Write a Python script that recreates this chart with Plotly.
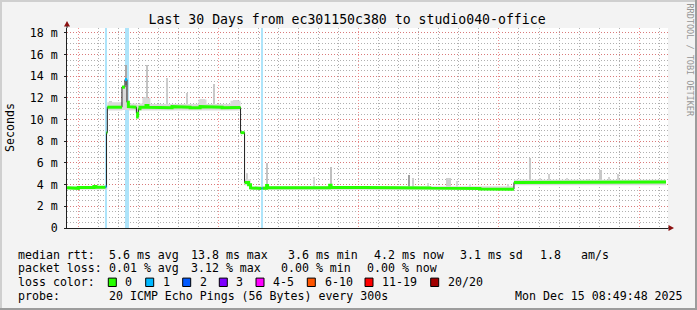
import plotly.graph_objects as go

# ---------------- data (x in days, 0 = first week boundary) ----------------
TITLE = "Last 30 Days from ec301150c380 to studio040-office"
WEEK_STARTS = [0, 7, 14, 21, 28]
WEEK_LABELS = ["Week 47", "Week 48", "Week 49", "Week 50"]
Y_TICKS = [0, 2, 4, 6, 8, 10, 12, 14, 16, 18]
Y_TICK_TEXT = ["0", "2 m", "4 m", "6 m", "8 m", "10 m", "12 m", "14 m", "16 m", "18 m"]

# median rtt (ms), step starts, and loss count per step
MED_DAY = [-0.564, -0.50, 0.0, 0.78, 0.88, 1.36, 1.41, 1.45, 1.68, 2.08, 2.18, 2.33,
           2.43, 2.50, 2.58, 2.90, 2.96, 3.00, 3.08, 3.38, 3.48, 4.08, 4.68, 5.08,
           5.58, 6.08, 6.58, 7.18, 7.58, 7.88, 8.10, 8.30, 8.50, 8.60, 8.82, 9.15,
           9.20, 9.40, 9.45, 11.07, 12.55, 12.62, 14.06, 16.06, 17.55, 19.55, 20.05,
           21.05, 21.45, 21.75, 24.05, 26.04, 28.04, 29.29]
MED_MS = [3.72, 3.66, 3.74, 3.82, 3.75, 3.80, 8.80, 11.15, 11.20, 11.15, 13.00, 13.70,
          11.60, 11.20, 11.15, 10.60, 10.25, 11.00, 11.15, 11.30, 11.15, 11.10, 11.20, 11.15,
          11.10, 11.20, 11.15, 11.10, 11.15, 11.12, 8.80, 4.20, 4.00, 3.70, 3.65, 3.68,
          3.68, 3.92, 3.72, 3.72, 3.95, 3.75, 3.72, 3.70, 3.68, 3.65, 3.60,
          3.60, 3.58, 4.20, 4.20, 4.22, 4.20, 4.25]
MED_LOSS = [0, 0, 0, 0, 0, 1, 0, 0, 0, 0, 0, 1,
            0, 0, 0, 0, 0, 0, 0, 0, 0, 0, 0, 0,
            0, 0, 0, 0, 0, 0, 0, 0, 0, 0, 0, 1,
            0, 0, 0, 0, 0, 0, 0, 0, 0, 0, 0,
            0, 0, 0, 0, 0, 0, 0]
DATA_END = 29.34

# smoke envelope (ms)
SMOKE_DAY = [-0.564, 1.45, 2.20, 2.50, 2.90, 3.05, 3.20, 3.60, 6.00, 6.40, 7.60, 8.10,
             8.30, 8.60, 21.75]
SMOKE_LO = [3.56, 10.85, 10.90, 10.85, 10.10, 10.85, 10.85, 10.85, 10.85, 10.85, 10.85, 8.70,
            3.95, 3.52, 3.95]
SMOKE_HI = [3.86, 11.60, 13.20, 11.50, 11.40, 11.50, 12.00, 11.45, 11.85, 11.45, 11.75, 8.90,
            4.50, 3.86, 4.45]

# smoke spikes (ms)
SPIKE_DAY = [1.62, 2.41, 3.35, 3.45, 4.45, 5.45, 6.20, 6.77, 7.85,
             8.42, 9.43, 11.77, 12.60, 16.53, 16.70, 17.46, 18.50, 18.91, 19.55,
             21.45, 22.57, 23.05, 23.50, 24.38, 25.45, 26.08, 26.50, 26.94, 28.04, 29.04]
SPIKE_TOP = [11.75, 15.00, 12.10, 15.00, 13.80, 12.50, 11.90, 13.30, 11.80,
             5.05, 6.00, 4.70, 5.66, 4.90, 4.60, 4.20, 4.60, 4.30, 4.10,
             4.10, 6.50, 4.60, 4.95, 4.60, 4.50, 5.35, 4.70, 5.00, 4.40, 4.40]
SPIKE_BASE = [11.0, 11.0, 11.0, 11.0, 11.0, 11.0, 11.0, 11.0, 11.0,
              4.0, 3.6, 3.6, 3.6, 3.6, 3.6, 3.6, 3.6, 3.6, 3.6,
              3.6, 4.0, 4.0, 4.0, 4.0, 4.0, 4.0, 4.0, 4.0, 4.0, 4.0]
SPIKE_SHADE = ["#d0d0d0", "#a8a8a8", "#d0d0d0", "#c4c4c4", "#cccccc", "#cccccc", "#d8d8d8",
               "#c8c8c8", "#d8d8d8",
               "#d0d0d0", "#c4c4c4", "#d8d8d8", "#c0c0c0", "#a0a0a0", "#d0d0d0", "#d8d8d8",
               "#d0d0d0", "#d8d8d8", "#dcdcdc",
               "#d8d8d8", "#c8c8c8", "#d8d8d8", "#d0d0d0", "#d8d8d8", "#d8d8d8", "#c8c8c8",
               "#d4d4d4", "#d0d0d0", "#d8d8d8", "#d8d8d8"]
SPIKE_W = [0.15, 0.06, 0.20, 0.05, 0.05, 0.05, 0.25, 0.05, 0.25,
           0.08, 0.05, 0.05, 0.06, 0.05, 0.05, 0.05, 0.25, 0.05, 0.05,
           0.05, 0.05, 0.05, 0.06, 0.05, 0.05, 0.08, 0.05, 0.06, 0.05, 0.05]

# periods with packet loss (background)
LOSS_BG_DAY = [1.38, 2.43, 9.17]
LOSS_BG_W = [0.13, 0.16, 0.05]

# legend texts
RTT_STATS = ["median rtt:", "5.6 ms avg", "13.8 ms max", "3.6 ms min", "4.2 ms now",
             "3.1 ms sd", "1.8", "am/s"]
LOSS_STATS = ["packet loss:", "0.01 % avg", "3.12 % max", "0.00 % min", "0.00 % now"]
LOSS_LABEL = "loss color:"
LOSS_BUCKETS = ["0", "1", "2", "3", "4-5", "6-10", "11-19", "20/20"]
LOSS_COLORS = ["#26ff00", "#00b8ff", "#0059ff", "#7e00ff", "#ff00ff", "#ff5500",
               "#ff0000", "#a10000"]
PROBE_TEXT = ["probe:", "20 ICMP Echo Pings (56 Bytes) every 300s", "Mon Dec 15 08:49:48 2025"]
Y_TITLE = "Seconds"
WATERMARK = "RRDTOOL / TOBI OETIKER"

# ---------------- layout geometry ----------------
W, H = 697, 310
L, T, PW, PH = 67, 28, 601, 200
X_RANGE = [-0.564, 29.44]
Y_TOP = 18.46
FONT = "DejaVu Sans Mono"


def px(xp):
    return (xp - L) / PW


def py(yp):
    return (T + PH - yp) / PH


fig = go.Figure()

# loss background bands
fig.add_trace(go.Bar(x=LOSS_BG_DAY, y=[Y_TOP] * len(LOSS_BG_DAY), base=0, width=LOSS_BG_W,
                     marker=dict(color="#aee4fa", line=dict(width=0)), hoverinfo="skip"))

# smoke envelope
sx = SMOKE_DAY + [DATA_END]
fig.add_trace(go.Scatter(x=sx, y=SMOKE_LO + [SMOKE_LO[-1]], mode="lines",
                         line=dict(width=0, shape="hv"), hoverinfo="skip"))
fig.add_trace(go.Scatter(x=sx, y=SMOKE_HI + [SMOKE_HI[-1]], mode="lines", fill="tonexty",
                         fillcolor="#dadada", line=dict(width=0, shape="hv"), hoverinfo="skip"))

# smoke spikes
fig.add_trace(go.Bar(x=SPIKE_DAY, base=SPIKE_BASE,
                     y=[t - b for t, b in zip(SPIKE_TOP, SPIKE_BASE)], width=SPIKE_W,
                     marker=dict(color=SPIKE_SHADE, line=dict(width=0)), hoverinfo="skip"))

# black median
fig.add_trace(go.Scatter(x=MED_DAY + [DATA_END], y=MED_MS + [MED_MS[-1]], mode="lines",
                         line=dict(color="#202020", width=1, shape="hv"), hoverinfo="skip"))

# loss-coloured median segments
ends = MED_DAY[1:] + [DATA_END]
for loss_level, col in [(0, LOSS_COLORS[0]), (1, LOSS_COLORS[1])]:
    gx, gy = [], []
    for i, (t0, t1, v, lo) in enumerate(zip(MED_DAY, ends, MED_MS, MED_LOSS)):
        if lo != loss_level:
            continue
        gx += [t0, t1]
        gy += [v, v]
        nxt_ok = (i + 1 < len(MED_MS) and MED_LOSS[i + 1] == loss_level
                  and abs(MED_MS[i + 1] - v) < 0.5)
        if not nxt_ok:
            gx.append(None)
            gy.append(None)
    fig.add_trace(go.Scatter(x=gx, y=gy, mode="lines", connectgaps=False,
                             line=dict(color=col, width=3), hoverinfo="skip"))

days = [d for d in range(0, 30) if d not in WEEK_STARTS]
grid_red = "rgba(235,100,100,0.7)"
grid_gray = "rgba(150,150,150,0.75)"
dash = "1px,2px"

fig.update_layout(
    width=W, height=H, autosize=False,
    margin=dict(l=L, r=W - L - PW, t=T, b=H - T - PH, pad=0),
    paper_bgcolor="#f3f3f3", plot_bgcolor="#ffffff",
    showlegend=False, barmode="overlay", bargap=0,
    font=dict(family=FONT, size=11.6, color="#000000"),
    title=dict(text=TITLE, x=0.498, xanchor="center", y=1 - 19.5 / H, yanchor="middle",
               yref="container", font=dict(family=FONT, size=13.2, color="#000000")),
    xaxis=dict(range=X_RANGE, showticklabels=False, tickmode="array", tickvals=WEEK_STARTS,
               ticks="", showgrid=True, gridcolor=grid_red, griddash=dash, gridwidth=1,
               zeroline=False, showline=True, linecolor="#202020", linewidth=1,
               minor=dict(tickmode="array", tickvals=days, showgrid=True,
                          gridcolor=grid_gray, griddash=dash, gridwidth=1, ticks="")),
    xaxis2=dict(range=X_RANGE, overlaying="x", matches="x", side="bottom", anchor="y",
                tickmode="array", tickvals=[s + 3.5 for s in WEEK_STARTS[:4]],
                ticktext=WEEK_LABELS, showgrid=False, zeroline=False, showline=False,
                ticks="", ticklabelstandoff=2,
                tickfont=dict(family=FONT, size=11.6, color="#000000")),
    yaxis=dict(range=[0, Y_TOP], tickmode="array", tickvals=Y_TICKS, ticktext=Y_TICK_TEXT,
               showgrid=True, gridcolor=grid_red, griddash=dash, gridwidth=1,
               zeroline=False, showline=True, linecolor="#202020", linewidth=1,
               ticks="outside", ticklen=2, tickcolor="#202020", ticklabelstandoff=4,
               tickfont=dict(family=FONT, size=11.6, color="#000000"),
               minor=dict(dtick=0.5, showgrid=True, gridcolor=grid_gray, griddash=dash,
                          gridwidth=1, ticks="")),
)

shapes = []
# frame shading
shapes.append(dict(type="rect", xref="paper", yref="paper", x0=px(0), x1=px(W), y0=py(0),
                   y1=py(2), fillcolor="#cfcfcf", line=dict(width=0), layer="above"))
shapes.append(dict(type="rect", xref="paper", yref="paper", x0=px(0), x1=px(2), y0=py(0),
                   y1=py(H), fillcolor="#cfcfcf", line=dict(width=0), layer="above"))
shapes.append(dict(type="rect", xref="paper", yref="paper", x0=px(0), x1=px(W), y0=py(H - 2),
                   y1=py(H), fillcolor="#9c9c9c", line=dict(width=0), layer="above"))
shapes.append(dict(type="rect", xref="paper", yref="paper", x0=px(W - 2), x1=px(W), y0=py(0),
                   y1=py(H), fillcolor="#9c9c9c", line=dict(width=0), layer="above"))
# axis arrows
shapes.append(dict(type="path", xref="paper", yref="paper",
                   path=f"M {px(64)},{py(26.5)} L {px(70)},{py(26.5)} L {px(67)},{py(21)} Z",
                   fillcolor="#8b1010", line=dict(width=0), layer="above"))
shapes.append(dict(type="path", xref="paper", yref="paper",
                   path=f"M {px(668.5)},{py(225)} L {px(668.5)},{py(231)} L {px(674)},{py(228)} Z",
                   fillcolor="#8b1010", line=dict(width=0), layer="above"))
shapes.append(dict(type="line", xref="paper", yref="paper", x0=px(67), x1=px(67),
                   y0=py(28), y1=py(26), line=dict(color="#202020", width=1)))
shapes.append(dict(type="line", xref="paper", yref="paper", x0=px(668), x1=px(669),
                   y0=0, y1=0, line=dict(color="#202020", width=1)))

annotations = []


def txt(xp, yp, s, **kw):
    d = dict(x=px(xp), y=py(yp), xref="paper", yref="paper", text=s, showarrow=False,
             xanchor="left", yanchor="middle", font=dict(family=FONT, size=11.6, color="#000000"))
    d.update(kw)
    annotations.append(d)


ROW_Y = [254.7, 268.3, 282.3, 295.7]
RTT_X = [16, 107.3, 189.3, 286, 371.7, 458.3, 538.3, 579.3]
LOSS_X = [16, 107.3, 189.3, 279.3, 365]
BOX_X = [108.3, 145.7, 182.7, 219.3, 256, 307.3, 365, 430.7]
BOX_LABEL_X = [123, 160.7, 197.7, 234.3, 271, 322.7, 380, 445.7]
PROBE_X = [16, 107.3, 513.3]

for xp, s in zip(RTT_X, RTT_STATS):
    txt(xp, ROW_Y[0], s)
for xp, s in zip(LOSS_X, LOSS_STATS):
    txt(xp, ROW_Y[1], s)
txt(16, ROW_Y[2], LOSS_LABEL)
for bx, lx, lab, col in zip(BOX_X, BOX_LABEL_X, LOSS_BUCKETS, LOSS_COLORS):
    shapes.append(dict(type="rect", xref="paper", yref="paper", x0=px(bx), x1=px(bx + 8),
                       y0=py(ROW_Y[2] - 4.2), y1=py(ROW_Y[2] + 4.2), fillcolor=col,
                       line=dict(color="#000000", width=1), layer="above"))
    txt(lx, ROW_Y[2], lab)
for xp, s in zip(PROBE_X, PROBE_TEXT):
    txt(xp, ROW_Y[3], s)

# y-axis title and watermark
txt(10, 128, Y_TITLE, xanchor="center", textangle=-90)
txt(689.5, 60, WATERMARK, xanchor="center", textangle=90,
    font=dict(family=FONT, size=8.5, color="#959595"))

fig.update_layout(shapes=shapes, annotations=annotations)
fig.write_html("out.html")
